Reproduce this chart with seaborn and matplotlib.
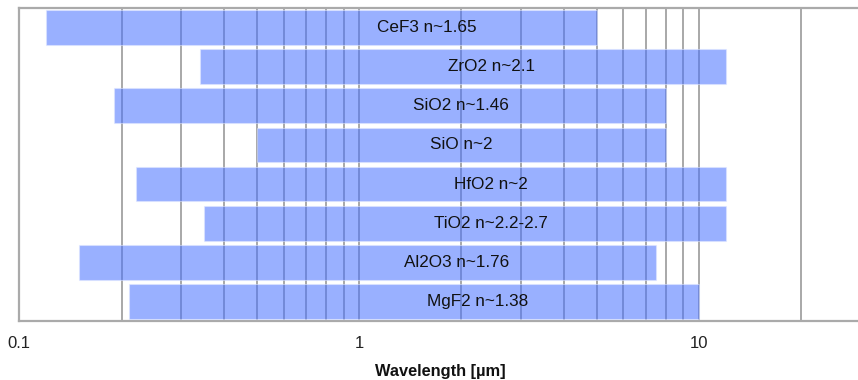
import numpy as np
import pandas as pd
import seaborn as sns
import matplotlib.pyplot as plt
from matplotlib.ticker import LogLocator, NullFormatter

# transparency windows of common coating materials (µm)
materials = ["CeF3", "ZrO2", "SiO2", "SiO", "HfO2", "TiO2", "Al2O3", "MgF2"]
indices = ["1.65", "2.1", "1.46", "2", "2", "2.2-2.7", "1.76", "1.38"]
lo = [0.12, 0.34, 0.19, 0.5, 0.22, 0.35, 0.15, 0.21]
hi = [5, 12, 8, 8, 12, 12, 7.5, 10]

df = pd.DataFrame({"material": materials, "n": indices, "lo": lo, "hi": hi})
df["label"] = df["material"] + " n~" + df["n"]
df["pos"] = np.arange(len(df))

sns.set_style("white")
plt.rcParams["font.family"] = ["Liberation Sans", "DejaVu Sans"]

fig = plt.figure(figsize=(8.58, 3.80), dpi=100)
ax = fig.add_axes([19.3 / 858, 59 / 380, (861 - 19.3) / 858, (321 - 8) / 380])

ax.set_xscale("log")
ax.set_xlim(0.1, 30)
ax.set_ylim(len(df) - 0.5, -0.5)

ax.barh(df["pos"], df["hi"] - df["lo"], left=df["lo"], height=0.89,
        color="#4670ff", alpha=0.55, edgecolor="#dfe6ff", linewidth=0.8, zorder=3)

for _, row in df.iterrows():
    # label sits between max(lo, 0.5) and hi on the log axis
    xc = np.sqrt(max(row["lo"], 0.5) * row["hi"])
    ax.text(xc, row["pos"], row["label"], ha="center", va="center",
            fontsize=12.3, color="#111111", zorder=4)

ax.xaxis.set_major_locator(LogLocator(base=10, numticks=10))
ax.xaxis.set_minor_locator(LogLocator(base=10, subs=np.arange(2, 10), numticks=20))
ax.xaxis.set_minor_formatter(NullFormatter())
ax.set_xticks([0.1, 1, 10])
ax.set_xticklabels(["0.1", "1", "10"])
ax.tick_params(axis="x", which="both", length=0, pad=11, labelsize=12, colors="#222222")
ax.set_yticks([])

ax.grid(True, which="both", axis="x", color="#999999", linewidth=1.2, zorder=1)
ax.set_axisbelow(True)

for side in ["left", "top", "bottom"]:
    ax.spines[side].set_color("#aaaaaa")
    ax.spines[side].set_linewidth(1.6)
ax.spines["right"].set_visible(False)

ax.set_xlabel("Wavelength [µm]", fontsize=11.8, fontweight="bold", labelpad=9, color="#111111")

plt.savefig("out.png", dpi=100)
